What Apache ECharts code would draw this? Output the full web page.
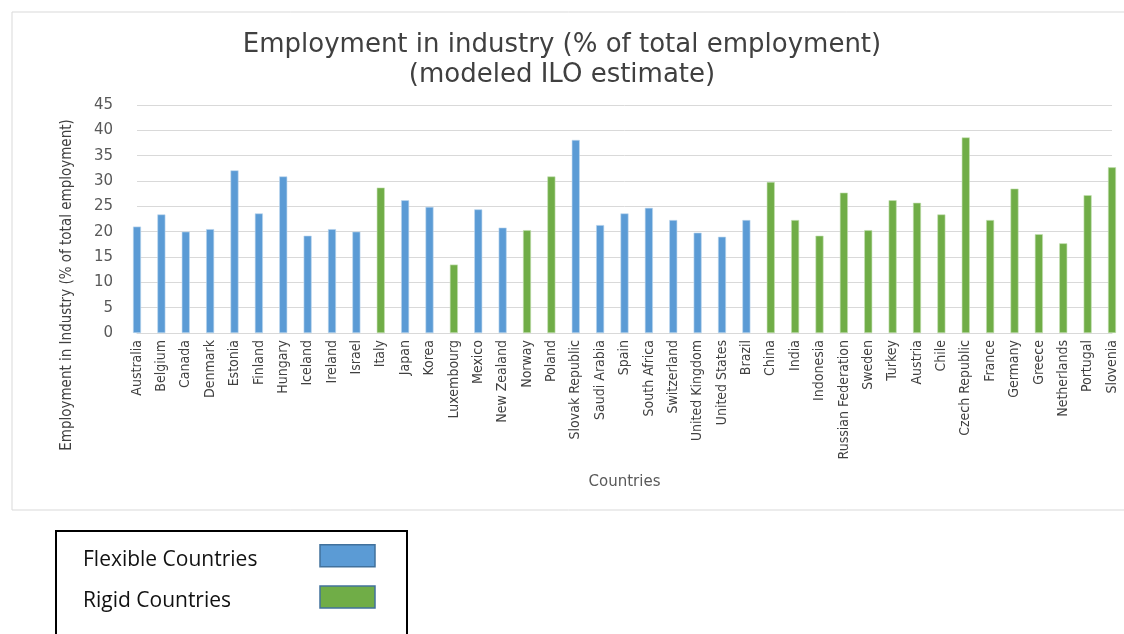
<!DOCTYPE html>
<html>
<head>
<meta charset="utf-8">
<script src="https://cdn.jsdelivr.net/npm/echarts@6/dist/echarts.min.js"></script>
<style>html,body{margin:0;padding:0;background:#fff;}#c{width:1124px;height:634px;}</style>
</head>
<body>
<div id="c"></div>
<script>
var categories = ['Australia','Belgium','Canada','Denmark','Estonia','Finland','Hungary','Iceland','Ireland','Israel','Italy','Japan','Korea','Luxembourg','Mexico','New Zealand','Norway','Poland','Slovak Republic','Saudi Arabia','Spain','South Africa','Switzerland','United Kingdom','United States','Brazil','China','India','Indonesia','Russian Federation','Sweden','Turkey','Austria','Chile','Czech Republic','France','Germany','Greece','Netherlands','Portugal','Slovenia'];
var values = [21.0,23.4,20.0,20.5,32.1,23.6,30.9,19.2,20.5,20.0,28.7,26.2,24.9,13.5,24.4,20.8,20.3,30.9,38.1,21.3,23.6,24.7,22.3,19.8,19.0,22.3,29.8,22.3,19.2,27.7,20.3,26.2,25.7,23.4,38.6,22.3,28.5,19.5,17.7,27.2,32.7];
var groups = ['F','F','F','F','F','F','F','F','F','F','R','F','F','R','F','F','R','R','F','F','F','F','F','F','F','F','R','R','R','R','R','R','R','R','R','R','R','R','R','R','R'];
var yTicks = [0,5,10,15,20,25,30,35,40,45];
var seriesNames = ['Flexible Countries','Rigid Countries'];

var narrow = "'Liberation Sans Narrow','DejaVu Sans Condensed','Roboto Condensed','Noto Sans Condensed',Roboto,sans-serif";

var flexData = values.map(function(v,i){return groups[i]==='F'?v:null;});
var rigidData = values.map(function(v,i){return groups[i]==='R'?v:null;});

var chart = echarts.init(document.getElementById('c'));
chart.setOption({
  animation:false,
  backgroundColor:'#fff',
  title:{
    text:'Employment in industry (% of total employment)\n(modeled ILO estimate)',
    left:'center', top:25,
    textStyle:{fontFamily:'DejaVu Sans',fontSize:26,fontWeight:'normal',color:'#404040',lineHeight:30}
  },
  graphic:[
    {type:'rect',shape:{x:12,y:12,width:1130,height:498},style:{fill:'none',stroke:'#D9D9D9',lineWidth:1},silent:true},
    {type:'rect',shape:{x:56,y:531,width:351,height:130},style:{fill:'none',stroke:'#000',lineWidth:2},silent:true},
    {type:'text',x:67,y:285,rotation:Math.PI/2,style:{text:'Employment in Industry (% of total employment)',fontFamily:narrow,fontSize:15,fill:'#404040',textAlign:'center',textVerticalAlign:'middle'}}
  ],
  legend:{
    orient:'vertical', left:78, top:539, align:'right',
    itemWidth:55, itemHeight:22, itemGap:15, icon:'rect',
    formatter:function(n){return '{a|'+n+'}';},
    textStyle:{fontFamily:'Open Sans',fontSize:21,color:'#111',
      rich:{a:{fontFamily:'Open Sans',fontSize:21,color:'#111',width:232,align:'left',padding:[8,0,0,0]}}},
    data:[
      {name:seriesNames[0],itemStyle:{color:'#5B9BD5',borderColor:'#41719C',borderWidth:1.5}},
      {name:seriesNames[1],itemStyle:{color:'#70AD47',borderColor:'#41719C',borderWidth:1.5}}
    ]
  },
  grid:{left:137,right:12,top:105,bottom:301,containLabel:false},
  xAxis:{
    type:'category', data:categories, boundaryGap:false,
    name:'Countries', nameLocation:'middle', nameGap:142,
    nameTextStyle:{fontFamily:'DejaVu Sans',fontSize:15,color:'#595959'},
    axisLine:{lineStyle:{color:'#D9D9D9'}},
    axisTick:{show:false},
    axisLabel:{interval:0,rotate:90,fontFamily:narrow,fontSize:14,color:'#404040',margin:7}
  },
  yAxis:{
    type:'value', min:yTicks[0], max:yTicks[yTicks.length-1], interval:5,
    axisLine:{show:false}, axisTick:{show:false},
    splitLine:{lineStyle:{color:'#D9D9D9',width:1}},
    axisLabel:{fontFamily:'DejaVu Sans',fontSize:15,color:'#595959',margin:24}
  },
  series:[
    {name:seriesNames[0],type:'bar',data:flexData,barWidth:8,barGap:'-100%',clip:true,
     itemStyle:{color:'#5B9BD5',borderColor:'#BDD7EE',borderWidth:0.6}},
    {name:seriesNames[1],type:'bar',data:rigidData,barWidth:8,barGap:'-100%',clip:true,
     itemStyle:{color:'#70AD47',borderColor:'#C5E0B4',borderWidth:0.6}}
  ]
});
</script>
</body>
</html>
